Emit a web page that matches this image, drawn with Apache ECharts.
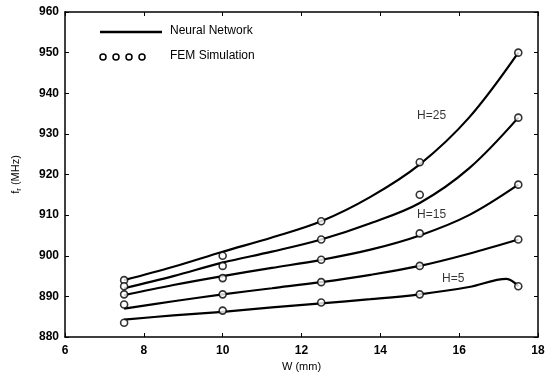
<!DOCTYPE html>
<html>
<head>
<meta charset="utf-8">
<script src="https://cdn.jsdelivr.net/npm/echarts@6/dist/echarts.min.js"></script>
<style>
  html, body { margin: 0; padding: 0; background: #fff; }
  #main { width: 548px; height: 372px; }
</style>
</head>
<body>
<div id="main"></div>
<script>
// W (mm) where the FEM simulation was run
var femW = [7.5, 10, 12.5, 15, 17.5];
// FEM results, one list per H (MHz)
var femH25 = [894, 900, 908.5, 923, 950];
var femH20 = [892.5, 897.5, 904, 915, 934];
var femH15 = [890.5, 894.5, 899, 905.5, 917.5];
var femH10 = [888, 890.5, 893.5, 897.5, 904];
var femH5 = [883.5, 886.5, 888.5, 890.5, 892.5];

// neural network curves
var nnW = [7.5, 8.75, 10, 11.25, 12.5, 13.75, 15, 16.25, 17.5];
var nnH25 = [894, 897.3, 901, 904.5, 908.5, 914.5, 922.5, 934, 950];
var nnH20 = [892, 895, 898.3, 901, 904, 908, 913, 921.5, 934];
var nnH15 = [890.3, 892.8, 895, 897, 899, 901.5, 905, 910, 917.5];
var nnH10 = [887, 888.8, 890.5, 892, 893.5, 895.3, 897.5, 900.5, 904];
var nnW5 = [7.5, 8.75, 10, 11.25, 12.5, 13.75, 15, 16.25, 17.2, 17.5];
var nnH5 = [884.3, 885.3, 886.2, 887.3, 888.3, 889.3, 890.5, 892.3, 894.3, 892.5];

// curve labels
var curveLabels = ['H=25', 'H=15', 'H=5'];
var curveLabelAt = [[15.3, 934.5], [15.3, 910], [15.85, 894.3]];

var chart = echarts.init(document.getElementById('main'));

function pairs(xs, ys) {
  return xs.map(function (x, i) { return [x, ys[i]]; });
}

var font = 'Liberation Sans, Arial, sans-serif';
var series = [];

[[nnW, nnH25], [nnW, nnH20], [nnW, nnH15], [nnW, nnH10], [nnW5, nnH5]].forEach(function (c) {
  series.push({
    type: 'line',
    data: pairs(c[0], c[1]),
    smooth: 0.35,
    showSymbol: false,
    silent: true,
    lineStyle: { color: '#000', width: 2.2 },
    z: 2
  });
});

[femH25, femH20, femH15, femH10, femH5].forEach(function (ys) {
  series.push({
    type: 'scatter',
    data: pairs(femW, ys),
    symbol: 'circle',
    symbolSize: 7,
    itemStyle: { color: '#fff', borderColor: '#000', borderWidth: 1.6 },
    z: 3
  });
});

series.push({
  type: 'scatter',
  data: curveLabelAt.map(function (p, i) { return { value: p, name: curveLabels[i] }; }),
  symbolSize: 0,
  label: {
    show: true,
    position: 'inside',
    formatter: '{b}',
    color: '#000',
    fontFamily: font,
    fontSize: 12
  },
  z: 4
});

var tickLabel = { color: '#000', fontFamily: font, fontSize: 12, fontWeight: 'bold' };

chart.setOption({
  animation: false,
  backgroundColor: '#fff',
  grid: { left: 65, right: 10, top: 12, bottom: 35, outerBoundsMode: 'none', containLabel: false },
  xAxis: [{
    type: 'value', min: 6, max: 18, interval: 2,
    name: 'W (mm)', nameLocation: 'middle', nameGap: 23,
    nameTextStyle: { color: '#000', fontFamily: font, fontSize: 11 },
    axisLine: { lineStyle: { color: '#000', width: 1.5 } },
    axisTick: { inside: true, length: 4, lineStyle: { color: '#000' } },
    axisLabel: Object.assign({ margin: 8 }, tickLabel),
    splitLine: { show: false }
  }, {
    type: 'value', min: 6, max: 18, interval: 2, position: 'top',
    axisLine: { lineStyle: { color: '#000', width: 1.5 } },
    axisTick: { inside: true, length: 4, lineStyle: { color: '#000' } },
    axisLabel: { show: false },
    splitLine: { show: false }
  }],
  yAxis: [{
    type: 'value', min: 880, max: 960, interval: 10,
    name: 'f{s|r} (MHz)', nameLocation: 'middle', nameGap: 42,
    nameTextStyle: {
      color: '#000', fontFamily: font, fontSize: 11,
      rich: { s: { fontSize: 8, verticalAlign: 'bottom', padding: [6, 0, 0, 0] } }
    },
    axisLine: { lineStyle: { color: '#000', width: 1.5 } },
    axisTick: { inside: true, length: 4, lineStyle: { color: '#000' } },
    axisLabel: Object.assign({ margin: 6 }, tickLabel),
    splitLine: { show: false }
  }, {
    type: 'value', min: 880, max: 960, interval: 10, position: 'right',
    axisLine: { show: true, lineStyle: { color: '#000', width: 1.5 } },
    axisTick: { show: true, inside: true, length: 4, lineStyle: { color: '#000' } },
    axisLabel: { show: false },
    splitLine: { show: false }
  }],
  graphic: [
    { type: 'line', shape: { x1: 100, y1: 32, x2: 162, y2: 32 }, style: { stroke: '#000', lineWidth: 2.5 } },
    { type: 'text', left: 170, top: 25, style: { text: 'Neural Network', fill: '#000', font: '12px ' + font } },
    { type: 'circle', shape: { cx: 103, cy: 57, r: 3 }, style: { fill: '#fff', stroke: '#000', lineWidth: 1.5 } },
    { type: 'circle', shape: { cx: 116, cy: 57, r: 3 }, style: { fill: '#fff', stroke: '#000', lineWidth: 1.5 } },
    { type: 'circle', shape: { cx: 129, cy: 57, r: 3 }, style: { fill: '#fff', stroke: '#000', lineWidth: 1.5 } },
    { type: 'circle', shape: { cx: 142, cy: 57, r: 3 }, style: { fill: '#fff', stroke: '#000', lineWidth: 1.5 } },
    { type: 'text', left: 170, top: 50, style: { text: 'FEM Simulation', fill: '#000', font: '12px ' + font } }
  ],
  series: series
});
</script>
</body>
</html>
